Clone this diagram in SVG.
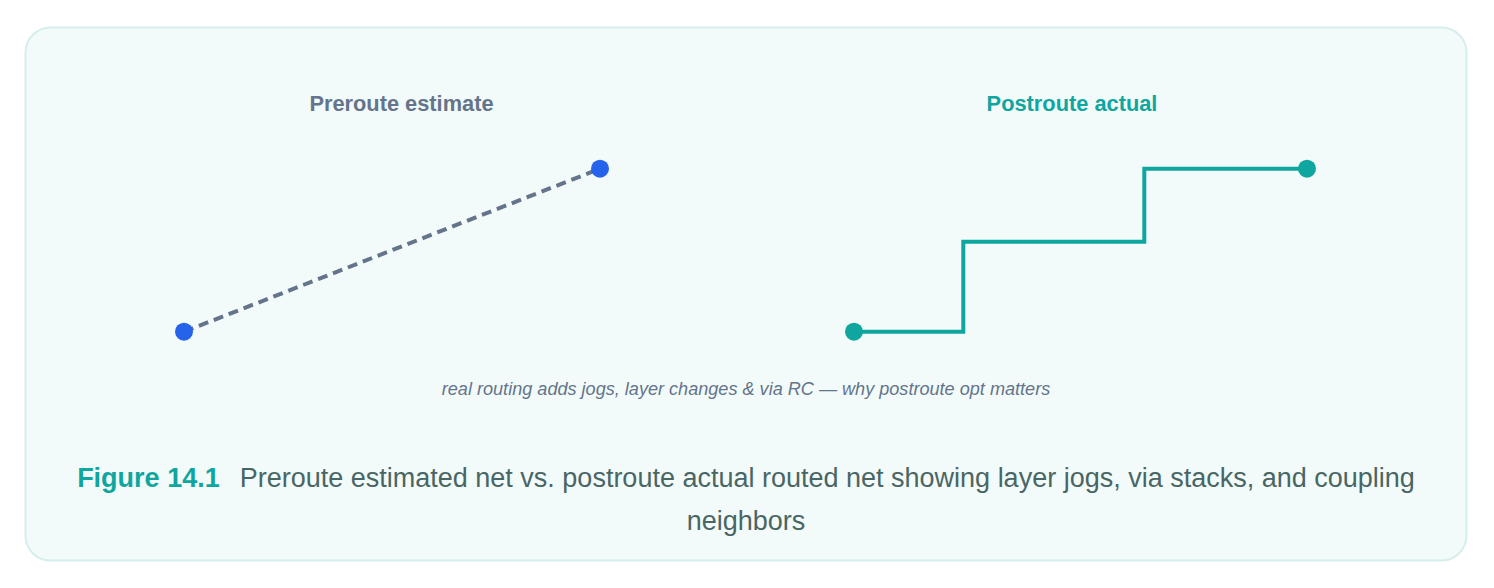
<svg xmlns="http://www.w3.org/2000/svg" width="1494" height="588" viewBox="0 0 1494 588">
<style>
.lbl{font-family:"Liberation Sans",Arial,sans-serif;font-weight:bold;font-size:21.8px;text-anchor:middle}
.note{font-family:"Liberation Sans",Arial,sans-serif;font-style:italic;font-size:18.1px;fill:#64748b;text-anchor:middle}
.cap{font-family:"Liberation Sans",Arial,sans-serif;font-size:27px;fill:#4a6664;text-anchor:middle}
.capb{font-weight:bold;fill:#0fa6a0}
.dot-b{fill:#2563eb}
.dot-t{fill:#0fa6a0}
</style>
<rect x="25.5" y="27.5" width="1441" height="533" rx="25" fill="#f2fbfa" stroke="#d6eeec" stroke-width="2"/>
<g id="preroute">
<text class="lbl" x="401.5" y="111" fill="#64748b">Preroute estimate</text>
</g>
<g id="postroute">
<text class="lbl" x="1072" y="111" fill="#0fa6a0">Postroute actual</text>
</g>
<g id="connectors">
<line x1="184" y1="331.7" x2="600" y2="168.7" stroke="#64748b" stroke-width="4" stroke-dasharray="10 6"/>
<polyline points="854,331.7 963.3,331.7 963.3,241.7 1144.3,241.7 1144.3,168.7 1307,168.7" fill="none" stroke="#0fa6a0" stroke-width="4"/>
</g>
<g id="pre-a"><circle class="dot-b" cx="184" cy="331.7" r="9"/></g>
<g id="pre-b"><circle class="dot-b" cx="600" cy="168.7" r="9"/></g>
<g id="post-a"><circle class="dot-t" cx="854" cy="331.7" r="9"/></g>
<g id="post-b"><circle class="dot-t" cx="1307" cy="168.7" r="9"/></g>
<text class="note" x="746" y="395">real routing adds jogs, layer changes &amp; via RC — why postroute opt matters</text>
<text class="cap" x="746" y="487"><tspan class="capb">Figure 14.1</tspan><tspan dx="20">Preroute estimated net vs. postroute actual routed net showing layer jogs, via stacks, and coupling</tspan></text>
<text class="cap" x="746" y="530">neighbors</text>
</svg>
